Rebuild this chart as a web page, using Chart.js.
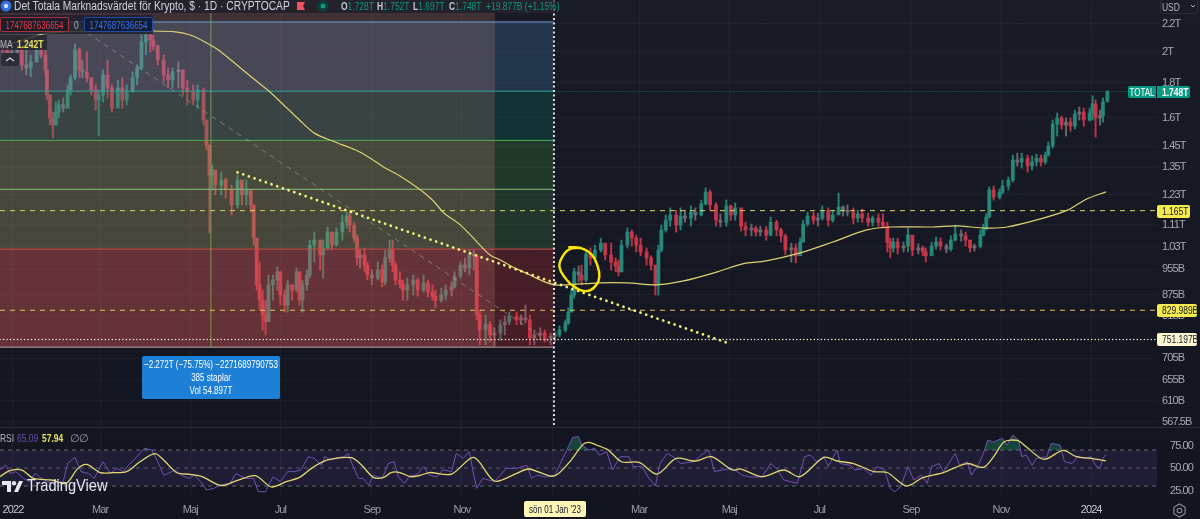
<!DOCTYPE html>
<html>
<head>
<meta charset="utf-8">
<script src="https://cdn.jsdelivr.net/npm/chart.js@4"></script>
<style>
html, body { margin: 0; padding: 0; }
body { width: 1200px; height: 519px; overflow: hidden; position: relative; background: linear-gradient(#191c27, #12151f); font-family: "Liberation Sans", sans-serif; font-size: 11px; color: #b2b5be; }
canvas { position: absolute; left: 0; top: 0; }
.t { position: absolute; white-space: nowrap; line-height: 14px; }
.c { transform: scaleX(.77); transform-origin: left center; }
.cc { transform: scaleX(.73); transform-origin: center center; text-align: center; }
.teal { color: #089981; }
.bx { position: absolute; box-sizing: border-box; }
</style>
</head>
<body>
<canvas id="chart" width="1200" height="519"></canvas>

<div class="bx" style="left:0;top:0;width:555px;height:13px;background:rgba(40,36,46,.75)"></div>
<svg style="position:absolute;left:0;top:0" width="340" height="13">
  <circle cx="6" cy="6" r="5.5" fill="#2f6fe0"/><circle cx="6" cy="6" r="2.2" fill="#cfe0ff"/>
  <path d="M297 2h8l-2 4 2 4h-8z" fill="#f0535f"/>
  <circle cx="323" cy="6" r="6" fill="#0f3a38"/><circle cx="323" cy="6" r="2.5" fill="#089981"/>
</svg>
<div class="t" style="left:14px;top:-1px;font-size:12.5px;color:#d1d4dc;transform:scaleX(.82);transform-origin:left center">Det Totala Marknadsvärdet för Krypto, $ · 1D · CRYPTOCAP</div>
<div class="t c" style="left:341px;top:-1px"><b style="color:#c8cad0">O</b><span class="teal">1.728T</span></div>
<div class="t c" style="left:377px;top:-1px"><b style="color:#c8cad0">H</b><span class="teal">1.752T</span></div>
<div class="t c" style="left:413px;top:-1px"><b style="color:#c8cad0">L</b><span class="teal">1.697T</span></div>
<div class="t c" style="left:449px;top:-1px"><b style="color:#c8cad0">C</b><span class="teal">1.748T</span></div>
<div class="t c teal" style="left:486px;top:-1px">+19.877B (+1.15%)</div>

<div class="bx" style="left:0;top:15px;width:153px;height:19px;background:rgba(30,32,42,.8)"></div>
<div class="bx" style="left:0;top:17px;width:69px;height:15px;border:1px solid #a8303c;border-radius:2px;background:#1b1d28"></div>
<div class="t cc" style="left:-11px;top:18px;width:91px;color:#f23645">1747687636654</div>
<div class="t c" style="left:74px;top:18px;color:#b2b5be">0</div>
<div class="bx" style="left:84px;top:17px;width:69px;height:15px;border:1px solid #1f4aa8;border-radius:2px;background:#141c33"></div>
<div class="t cc" style="left:73px;top:18px;width:91px;color:#3d73e8">1747687636654</div>
<div class="bx" style="left:0;top:35px;width:47px;height:15px;background:rgba(38,38,44,.8)"></div>
<div class="t c" style="left:0;top:37px;color:#b2b5be">MA</div>
<div class="t c" style="left:17px;top:37px;color:#e8e060;font-weight:bold">1.242T</div>
<div class="bx" style="left:1px;top:53px;width:18px;height:13px;background:#2a2c36;border-radius:2px"></div>
<svg style="position:absolute;left:5px;top:56px" width="10" height="7"><path d="M1 5l4-3 4 3" fill="none" stroke="#d1d4dc" stroke-width="1.2"/></svg>

<div class="bx" style="left:142px;top:356px;width:138px;height:43px;background:#1e7fd6;border-radius:2px"></div>
<div class="t cc" style="left:101px;top:357px;width:220px;color:#fff">−2.272T (−75.75%) −2271689790753</div>
<div class="t cc" style="left:101px;top:370px;width:220px;color:#fff">385 staplar</div>
<div class="t cc" style="left:101px;top:383px;width:220px;color:#fff">Vol 54.897T</div>

<div class="t c" style="left:0;top:431px;color:#b2b5be">RSI</div>
<div class="t c" style="left:17px;top:431px;color:#6a4fa8">65.09</div>
<div class="t c" style="left:42px;top:431px;color:#e8e060;font-weight:bold">57.94</div>
<div class="t" style="left:70px;top:431px;color:#9a9da6">∅</div>
<div class="t" style="left:79px;top:431px;color:#9a9da6">∅</div>

<svg style="position:absolute;left:2px;top:481px" width="22" height="12"><path d="M0 0h9v11h-4v-7h-5zM21 0l-5 11h-4l5-11z" fill="#e6e8ee"/><circle cx="12" cy="2.2" r="2.2" fill="#e6e8ee"/></svg>
<div class="t" style="left:27px;top:477px;font-size:17px;line-height:18px;color:#e6e8ee;transform:scaleX(.86);transform-origin:left center">TradingView</div>

<div class="bx" style="left:1160px;top:-1px;width:38px;height:15px;border:1px solid #2a2e39;border-radius:3px"></div>
<div class="t c" style="left:1162px;top:0;color:#b2b5be">USD</div>
<svg style="position:absolute;left:1190px;top:4px" width="6" height="5"><path d="M1 1l2 2 2-2" fill="none" stroke="#b2b5be"/></svg>

<div class="bx" style="left:1128px;top:86px;width:28px;height:12px;background:#089981;border-radius:2px 0 0 2px"></div>
<div class="t cc" style="left:1122px;top:85px;width:40px;color:#fff">TOTAL</div>
<div class="bx" style="left:1157px;top:86px;width:33px;height:12px;background:#089981;border-radius:0 2px 2px 0"></div>
<div class="t c" style="left:1162px;top:85px;color:#fff;font-weight:bold">1.748T</div>
<div class="bx" style="left:1157px;top:205px;width:33px;height:13px;background:#f4e94f;border-radius:2px"></div>
<div class="t c" style="left:1162px;top:204px;color:#131722">1.165T</div>
<div class="bx" style="left:1157px;top:304px;width:40px;height:13px;background:#f4e94f;border-radius:2px"></div>
<div class="t c" style="left:1162px;top:303px;color:#131722">829.989B</div>
<div class="bx" style="left:1157px;top:333px;width:40px;height:13px;background:#fdf8d2;border-radius:2px"></div>
<div class="t c" style="left:1162px;top:332px;color:#131722">751.197B</div>

<div class="bx" style="left:524px;top:501px;width:62px;height:16px;background:#fff6b8;border-radius:2px"></div>
<div class="t cc" style="left:505px;top:502px;width:100px;color:#131722">sön 01 Jan '23</div>
<svg style="position:absolute;left:1172px;top:503px" width="15" height="15"><path d="M7.5 1l5.6 3.2v6.6L7.5 14 1.900 10.800V4.200z" fill="none" stroke="#8d909a" stroke-width="1.100"/><circle cx="7.500" cy="7.500" r="2.300" fill="none" stroke="#8d909a" stroke-width="1.100"/></svg>

<script>
// price values are in billions of USD, days counted from 2022-01-01
const candleDays = [-7,-4,-1,3,6,9,12,16,19,22,23,25,27,29,31,34,37,39,42,45,47,50,53,56,58,61,64,67,71,74,77,81,84,87,90,93,95,98,102,105,108,112,115,118,122,125,129,131,133,
  135,137,141,144,148,152,155,158,161,163,165,167,169,171,173,176,179,181,184,186,189,192,194,196,199,201,204,208,210,213,216,219,223,226,228,231,233,235,238,240,243,247,250,252,255,257,259,262,
  264,267,271,274,278,281,284,286,290,293,297,299,303,306,309,312,314,316,320,323,326,330,333,336,341,344,347,350,353,357,360,364,
  367,370,374,376,378,380,383,385,388,391,394,398,401,405,408,410,412,416,419,422,425,429,432,435,437,439,442,445,449,452,455,459,462,466,469,472,476,479,483,486,489,493,496,500,503,506,510,513,517,520,523,527,530,
  533,535,538,542,545,548,552,555,559,562,565,569,572,575,579,582,586,589,592,594,596,599,603,606,609,613,616,618,622,625,628,632,635,638,642,645,648,651,655,657,659,661,664,668,670,674,677,680,683,687,690,693,696,699,701,704,707,710,713,716,719,722,725,729,731,733,736,738,741];
const candleHigh = [2069,2048,2027,2048,2027,2014,1980,2048,2069,2014,1881,1727,1630,1687,1698,1710,1788,1850,2055,2027,1946,2000,1831,1788,1757,1881,1946,1788,1818,1831,1788,1869,1914,2119,2155,2133,2119,2048,1980,1894,1894,1933,1881,1818,1788,1788,1769,1586,1457,
  1361,1338,1329,1302,1271,1315,1284,1293,1250,1188,1061,978,889,859,936,936,962,946,889,920,905,958,946,920,952,1054,1083,1054,1054,1102,1083,1098,1148,1159,1167,1120,1072,1019,1026,978,952,978,968,1019,1054,1054,978,946,
  920,926,936,926,936,920,905,889,895,905,914,946,978,992,1019,1019,1002,831,817,798,782,803,814,825,825,817,845,817,776,782,776,768,
  771,787,803,837,889,958,965,968,1019,1026,1036,1061,1036,1043,992,985,1054,1098,1091,1072,1061,1026,999,968,1036,1109,1148,1176,1167,1176,1167,1184,1176,1208,1259,1250,1196,1152,1208,1188,1196,1159,1120,1113,1105,1105,1105,1140,1128,1098,1076,1043,1040,
  1061,1128,1159,1159,1155,1184,1176,1167,1237,1184,1188,1176,1167,1171,1155,1144,1152,1152,1120,1061,1061,1061,1047,1098,1069,1040,1033,1026,1047,1065,1061,1040,1069,1109,1091,1083,1054,1040,1091,1113,1152,1263,1267,1254,1293,1306,1408,1417,1417,1408,1403,1412,1408,1422,1472,1586,1624,1608,1597,1597,1641,1658,1652,1652,1722,1698,1641,1710,1752];
const candleLow = [1960,1933,1914,1946,1881,1850,1837,1933,1960,1850,1698,1559,1492,1559,1597,1630,1652,1727,1818,1831,1831,1806,1727,1641,1502,1687,1710,1630,1670,1652,1670,1745,1788,1881,1980,2000,2014,1914,1806,1769,1769,1769,1727,1670,1670,1652,1559,1432,1080,
  1250,1229,1229,1216,1148,1176,1188,1188,1159,1036,889,831,776,763,798,859,889,845,825,825,859,883,845,825,889,926,978,952,926,1019,1019,1033,1054,1098,1083,1047,968,958,946,920,905,920,899,905,978,946,905,895,
  859,859,874,871,883,868,859,837,853,859,871,895,926,946,936,952,803,738,738,745,735,750,763,790,790,790,795,738,738,750,745,738,
  745,758,771,790,825,865,914,905,914,968,978,1012,985,952,946,933,946,1026,1033,1012,999,968,952,874,874,1012,1083,1105,1083,1091,1120,1105,1128,1144,1188,1167,1105,1102,1105,1128,1128,1087,1069,1069,1069,1069,1054,1069,1069,1047,1002,978,975,
  1012,1047,1105,1113,1105,1128,1105,1120,1152,1144,1144,1113,1120,1120,1105,1105,1105,1098,1012,992,1012,1005,1012,1012,999,1005,999,978,1012,1022,1019,1009,1015,1050,1050,1033,1012,1015,1026,1069,1091,1136,1208,1212,1233,1250,1284,1356,1347,1329,1338,1356,1356,1365,1403,1442,1502,1538,1502,1527,1538,1586,1554,1580,1586,1497,1559,1575,1697];
const candleClose = [2014,1980,2000,2014,1914,1894,1933,2014,1980,1881,1727,1597,1559,1630,1670,1652,1757,1831,2014,1881,1869,1831,1757,1698,1727,1850,1769,1652,1769,1698,1745,1831,1894,2069,2119,2083,2041,1946,1850,1818,1869,1881,1769,1745,1698,1757,1586,1457,1315,
  1338,1271,1293,1250,1188,1293,1229,1250,1188,1061,905,859,817,798,905,920,946,874,845,905,889,946,859,905,936,1036,1054,1002,1026,1083,1036,1083,1120,1144,1109,1061,992,1002,968,936,926,952,914,992,1019,968,920,908,
  889,905,920,889,911,883,871,859,874,889,899,933,968,958,1005,999,817,776,790,763,768,790,798,814,803,809,803,755,763,768,755,760,
  763,776,795,825,874,946,936,920,1005,992,1019,1043,1002,978,965,946,1036,1083,1061,1036,1012,992,968,905,1019,1091,1128,1148,1109,1144,1136,1159,1148,1192,1241,1188,1128,1120,1184,1148,1176,1105,1091,1098,1083,1091,1072,1120,1091,1069,1019,1026,999,
  1047,1113,1144,1128,1136,1167,1128,1148,1180,1167,1159,1136,1152,1136,1120,1136,1120,1105,1047,1026,1047,1026,1033,1072,1019,1026,1012,999,1033,1047,1033,1022,1054,1076,1069,1054,1026,1033,1072,1098,1140,1250,1220,1241,1267,1293,1384,1375,1393,1356,1375,1393,1375,1408,1452,1565,1597,1559,1575,1554,1619,1630,1586,1624,1675,1597,1608,1687,1748];
const firstOpen = 2040;

const maDays = [-9,3,23,59,95,110,120,130,140,154,164,174,184,194,204,218,232,242,252,262,276,284,292,303,313,323,330,340,350,360,367,375,397,416,436,454,477,494,510,533,555,578,594,623,639,659,673,697,714,727,740];
const maValues = [2041,2069,2133,2148,2148,2141,2119,2069,2007,1894,1818,1745,1664,1586,1517,1472,1432,1393,1347,1311,1250,1208,1155,1109,1054,1002,985,958,936,914,905,905,911,911,905,917,946,972,982,1009,1047,1091,1102,1102,1106,1098,1102,1135,1167,1212,1242];

const rsiDays = [-9,-5,-2,2,7,11,15,18,23,27,34,37,42,46,51,55,61,66,70,75,78,84,89,94,98,102,105,110,114,119,123,127,131,136,140,147,151,157,163,166,171,176,181,186,191,195,200,204,209,211,215,218,224,227,230,234,237,241,244,250,254,258,261,
  265,269,273,278,282,287,291,297,300,305,309,312,314,318,326,330,334,341,348,351,355,361,367,370,375,379,383,385,390,394,397,402,406,411,417,420,426,430,435,438,443,447,452,461,466,471,475,481,487,494,499,507,513,517,522,531,
  536,540,544,549,552,558,560,567,570,576,581,585,590,594,597,601,606,610,615,619,622,627,630,638,641,646,649,654,657,660,664,670,673,677,681,683,686,690,693,700,703,709,712,717,721,726,730,733,736,738,740];
const rsiValues = [47.8,53.3,44,46,38.5,35,44,40,35,33,35,55,62,46,44,38.5,57,44,49.6,46,53,62.6,72,70,57,42,44,48,42,38.5,42,35,25.6,27.4,31,33,44,38.5,38.5,23.7,23.7,40,35,46,46,48,62.6,60.7,53,62.6,59,60.7,62.6,66,53,38.5,38.5,31,42,38.5,55,57,40,
  33,42,42,51.5,42,40,48,46,66,61,68,42,27.4,38.5,35,42,49.6,49.6,53,38.5,42,40,42,53,70,84,85,75.6,70,72,64.4,68,47.8,62.6,62.6,51.5,51.5,40,30,55,66,62.6,55,57,64.4,70,46,48,49.6,42,40,40,55,49.6,36.7,33,
  62.6,64.4,57,62.6,51.5,70,55,53,47.8,49.6,42,51.5,47.8,27.4,23.7,29,51.5,36.7,42,33,51.5,55,46,66,53,57,42,55,66,81,79,83,75.6,86.7,81,62.6,64.4,53,60.7,62.6,77.4,75.6,57,55,62.6,60.7,62.6,53,49.6,60.7,65.09];

const rsiMaDays = [-9,-2,6,14,26,36,44,50,59,68,77,86,96,102,111,120,128,141,151,164,175,185,194,203,213,229,236,244,251,256,262,269,276,282,297,312,326,341,349,364,369,377,386,390,395,403,412,424,436,449,462,473,487,493,507,522,533,549,558,569,583,592,605,616,630,646,657,664,671,680,686,698,711,720,730,740];
const rsiMaValues = [40.4,47,47.8,38.5,36.7,33,49.6,54,44.8,44.8,46,57,66,59,44.8,43,40.4,30.4,35.6,41.5,29,34.8,39.6,50.7,59,61.5,53.3,39.6,39.6,45,45,40.4,42,45,43.3,61.9,35.6,44,48.9,41,43.3,57,76.3,78.5,75.6,70,57,56.3,43.3,60.7,57.8,62.6,47.8,48.9,40.4,47.8,40.4,61.9,57.8,55,46,45,30,39.3,45,55,50.7,62.6,79,80.7,73.7,59.6,69.6,62.6,60.7,57.94];

// hand drawn circle
const circleDays = [376,384,392,396,397,395,389,380,374,370,372,377,385];
const circlePrices = [1029,1026,1002,962,930,905,886,899,926,962,996,1022,1026];

// fib levels, top to bottom
const fibLevels = [2215,1750,1480,1253,1022,732];
const fibLineColors = ['#6f9bd1','#2fa79a','#4caf50','#8fbf80','#c84a4a','#b8a0a8'];
const fibFillColors = ['rgba(83,151,214,.22)','rgba(0,119,102,.25)','rgba(75,167,70,.22)','rgba(83,159,78,.22)','rgba(219,47,54,.25)'];

const yTickValues = [2200,2000,1800,1600,1450,1350,1230,1110,1030,955,875,815,705,655,610,567.5];
const yTickLabels = ['2.2T','2T','1.8T','1.6T','1.45T','1.35T','1.23T','1.11T','1.03T','955B','875B','815B','705B','655B','610B','567.5B'];
const rsiTickValues = [75,50,25];
const rsiTickLabels = ['75.00','50.00','25.00'];
const xTickDays = [0,59,120,181,243,304,365,424,485,546,608,669,730];
const xTickLabels = ['2022','Mar','Maj','Jul','Sep','Nov','','Mar','Maj','Jul','Sep','Nov','2024'];

const xMin = -8.8, xMax = 774.6;
const yMin = 557.7, yMax = 2387;
const rsiMin = 17.8, rsiMax = 95.6;

const GREEN = 'rgba(40,140,125,0.9)';
const RED = 'rgba(205,55,75,0.9)';
const GREY = 'rgba(115,110,118,0.9)';
const AXIS_FONT = {family: 'Liberation Sans', size: 11};

function hline(value, fromDay, toDay, color, extra) {
    return Object.assign({
        type: 'line',
        data: [{x: fromDay, y: value}, {x: toDay, y: value}],
        borderColor: color,
        borderWidth: 1,
        pointRadius: 0,
        yAxisID: 'y',
        order: 5
    }, extra);
}

function xyLine(days, values, color, extra) {
    return Object.assign({
        type: 'line',
        data: days.map((d, i) => ({x: d, y: values[i]})),
        borderColor: color,
        borderWidth: 1,
        pointRadius: 0,
        yAxisID: 'y',
        order: 5
    }, extra);
}

const opens = candleClose.map((c, i) => i == 0 ? firstOpen : candleClose[i - 1]);
const candleColors = candleClose.map((c, i) => {
    // small moves look grey in the picture
    if (Math.abs(c - opens[i]) / opens[i] < 0.012) return GREY;
    return c >= opens[i] ? GREEN : RED;
});

let datasets = [];

datasets.push({
    type: 'bar',
    data: candleDays.map((d, i) => ({x: d, y: [candleLow[i], candleHigh[i]]})),
    backgroundColor: candleColors,
    barThickness: 1.3,
    grouped: false,
    yAxisID: 'y',
    order: 40
});
datasets.push({
    type: 'bar',
    data: candleDays.map((d, i) => ({x: d, y: [opens[i], candleClose[i]]})),
    backgroundColor: candleColors,
    barThickness: 3.2,
    grouped: false,
    yAxisID: 'y',
    order: 39
});

// fib zones sit on top of the candles
fibFillColors.forEach((color, i) => {
    datasets.push(hline(fibLevels[i], xMin, 366, 'transparent', {
        borderWidth: 0,
        fill: {value: fibLevels[i + 1]},
        backgroundColor: color,
        order: 30
    }));
});
datasets.push(hline(2284, xMin, 326.3, 'transparent', {
    borderWidth: 0,
    fill: {value: 730},
    backgroundColor: 'rgba(240,150,135,.18)',
    order: 29
}));
fibLevels.forEach((level, i) => {
    datasets.push(hline(level, xMin, 366, fibLineColors[i], {order: 28}));
});

datasets.push(xyLine([134, 134], [2284, 730], 'rgba(130,170,100,.35)', {order: 27}));
datasets.push(xyLine([39, 366], [2215, 738], 'rgba(190,190,200,.45)', {borderDash: [5, 5], order: 26}));
datasets.push(xyLine(maDays, maValues, '#dcd272', {tension: 0.3, borderWidth: 1.2, order: 20}));

datasets.push(hline(1165, xMin, xMax, '#d8d86a', {borderDash: [5, 5], order: 10}));
datasets.push(hline(829.989, xMin, xMax, '#d9c860', {borderDash: [5, 5], order: 10}));
datasets.push(hline(751.197, xMin, xMax, '#f5f2dc', {borderDash: [0.01, 3.5], borderWidth: 1.500, borderCapStyle: 'round', order: 10}));
datasets.push(hline(1748, 366, xMax, 'rgba(40,170,150,.6)', {borderDash: [1, 2], order: 10}));

datasets.push(xyLine([152, 485], [1327, 741], '#f0f07a', {borderDash: [0.01, 6], borderWidth: 2.800, borderCapStyle: 'round', order: 8}));
datasets.push(xyLine([366.3, 366.3], [yMax, yMin], '#ffffff', {borderDash: [2, 2.5], borderWidth: 1.700, order: 7}));
datasets.push(xyLine(circleDays, circlePrices, '#ffe600', {tension: 0.45, borderWidth: 2.400, order: 6}));

// rsi pane
datasets.push(hline(70, xMin, xMax, 'rgba(170,170,180,.55)', {
    yAxisID: 'rsi', borderDash: [4, 4], fill: {value: 30}, backgroundColor: 'rgba(126,87,194,.13)', order: 5
}));
datasets.push(hline(50, xMin, xMax, 'rgba(170,170,180,.45)', {yAxisID: 'rsi', borderDash: [4, 4], order: 5}));
datasets.push(hline(30, xMin, xMax, 'rgba(170,170,180,.55)', {yAxisID: 'rsi', borderDash: [4, 4], order: 5}));
datasets.push(xyLine(rsiDays, rsiValues, '#6f52b5', {
    yAxisID: 'rsi',
    fill: {value: 70, above: 'rgba(30,140,100,.4)', below: 'rgba(0,0,0,0)'},
    order: 3
}));
datasets.push(xyLine(rsiMaDays, rsiMaValues, '#e0d870', {yAxisID: 'rsi', borderWidth: 1.300, tension: 0.3, order: 2}));

function setTicks(values) {
    return scale => { scale.ticks = values.map(v => ({value: v})); };
}

// fixed axis sizes, and no extra room for the outer tick labels
function fixSize(prop, size) {
    return scale => {
        scale[prop] = size;
        scale.paddingLeft = scale.paddingRight = scale.paddingTop = scale.paddingBottom = 0;
    };
}

// the picture has narrow axis text and there is no condensed font here
const narrowText = {
    id: 'narrowText',
    beforeDraw(chart) {
        chart.ctx.letterSpacing = '-0.9px';
    }
};

new Chart('chart', {
    type: 'bar',
    data: {datasets: datasets},
    plugins: [narrowText],
    options: {
        responsive: false,
        animation: false,
        events: [],
        layout: {padding: 0, autoPadding: false},
        plugins: {legend: {display: false}, tooltip: {enabled: false}},
        scales: {
            x: {
                type: 'linear',
                offset: false,
                min: xMin,
                max: xMax,
                afterBuildTicks: setTicks(xTickDays),
                afterFit: fixSize('height', 22),
                grid: {color: 'rgba(255,255,255,.045)', offset: false, drawTicks: false},
                border: {display: false},
                ticks: {
                    autoSkip: false,
                    maxRotation: 0,
                    padding: 6,
                    color: ctx => (ctx.index == 0 || ctx.index == 12) ? '#c8cad0' : '#9a9da6',
                    font: AXIS_FONT,
                    callback: (value, index) => xTickLabels[index]
                }
            },
            y: {
                type: 'logarithmic',
                position: 'right',
                stack: 'right',
                stackWeight: 427,
                min: yMin,
                max: yMax,
                afterBuildTicks: setTicks(yTickValues),
                afterFit: fixSize('width', 43),
                grid: {color: 'rgba(255,255,255,.035)', drawTicks: false},
                border: {display: false},
                ticks: {
                    autoSkip: false,
                    padding: 5,
                    color: '#a6a9b2',
                    font: AXIS_FONT,
                    callback: (value, index) => yTickLabels[index]
                }
            },
            rsi: {
                type: 'linear',
                position: 'right',
                stack: 'right',
                stackWeight: 70,
                min: rsiMin,
                max: rsiMax,
                afterBuildTicks: setTicks(rsiTickValues),
                afterFit: fixSize('width', 43),
                grid: {display: false},
                border: {display: false},
                ticks: {
                    autoSkip: false,
                    padding: 5,
                    color: '#a6a9b2',
                    font: AXIS_FONT,
                    callback: (value, index) => rsiTickLabels[index]
                }
            }
        }
    }
});
</script>
<div class="bx" style="left:0;top:427px;width:1200px;height:1px;background:#2a2e39"></div>
</body>
</html>
